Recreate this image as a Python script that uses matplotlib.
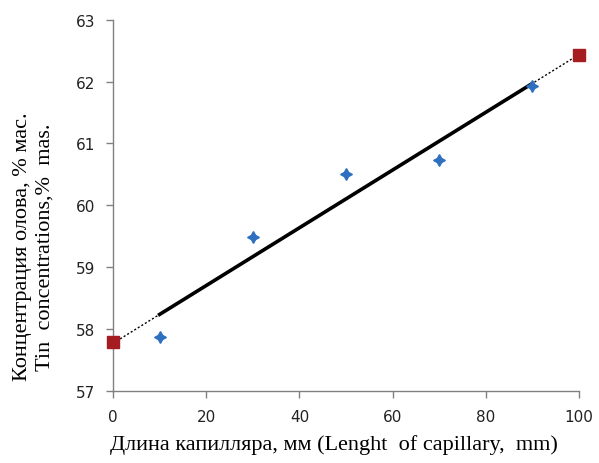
import numpy as np
import matplotlib
matplotlib.use("Agg")
import matplotlib.pyplot as plt

# measured points (blue)
length_mm = [10, 30, 50, 70, 90]
tin_conc = [57.87, 59.49, 60.50, 60.73, 61.92]

# extrapolated end points (red squares)
end_length = [0, 100]
end_conc = [57.79, 62.43]

x_ticks = [0, 20, 40, 60, 80, 100]
y_ticks = [57, 58, 59, 60, 61, 62, 63]

fig = plt.figure(figsize=(5.99, 4.64), dpi=100)
ax = fig.add_axes([0.1887, 0.1558, 0.778, 0.7996])

# linear trend of the measured points
k, b = np.polyfit(length_mm, tin_conc, 1)
xs_in = np.array([min(length_mm), max(length_mm)])
xs_all = np.array(end_length)
ax.plot(xs_all, k * xs_all + b, color="black", lw=1.0, ls=(0, (1.5, 1.5)), zorder=2)
ax.plot(xs_in, k * xs_in + b, color="black", lw=2.6, zorder=3)

ax.plot(length_mm, tin_conc, ls="none", marker=(4, 1, 0), ms=8.5,
        color="#2f6fc0", mec="#2f6fc0", zorder=4)
ax.plot(end_length, end_conc, ls="none", marker="s", ms=9,
        color="#a51c21", mec="#a51c21", zorder=5, clip_on=False)

ax.set_xlim(0, 100)
ax.set_ylim(57, 63)
ax.set_xticks(x_ticks)
ax.set_yticks(y_ticks)

for s in ("top", "right"):
    ax.spines[s].set_visible(False)
for s in ("left", "bottom"):
    ax.spines[s].set_color("#808080")
    ax.spines[s].set_linewidth(1.0)
ax.tick_params(direction="out", length=5, color="#808080", width=1.0,
               labelsize=11, labelcolor="#222222", pad=8)

serif = ["Liberation Serif", "DejaVu Serif"]
ax.set_xlabel("Длина капилляра, мм (Lenght  of capillary,  mm)",
              family=serif, fontsize=16, va="center")
ax.xaxis.set_label_coords(0.474, -0.144)
ax.set_ylabel("Концентрация олова, % мас.\nTin  concentrations,%  mas.",
              family=serif, fontsize=16, linespacing=1.2, va="center")
ax.yaxis.set_label_coords(-0.17, 0.39)

fig.savefig("out.png", dpi=100)
